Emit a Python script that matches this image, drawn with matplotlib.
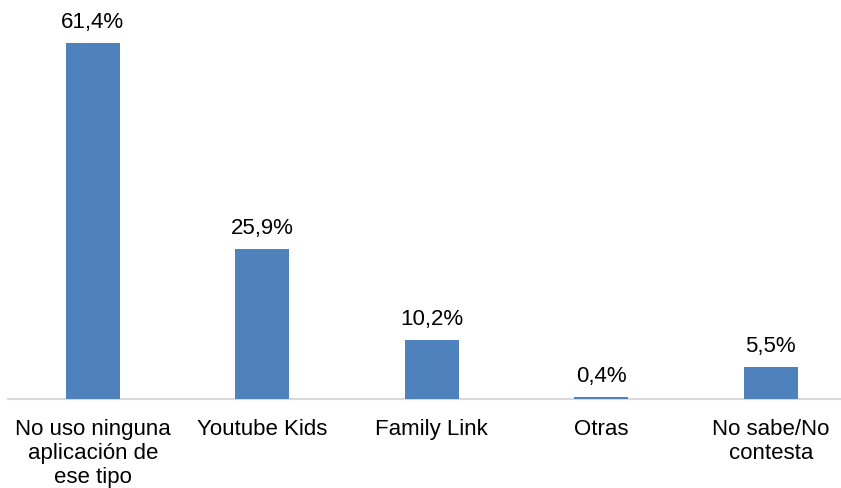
import matplotlib
matplotlib.use("Agg")
import matplotlib.pyplot as plt

plt.rcParams['font.family'] = ['Liberation Sans', 'DejaVu Sans']

categories = ["No uso ninguna\naplicación de\nese tipo", "Youtube Kids", "Family Link",
              "Otras", "No sabe/No\ncontesta"]
values = [61.4, 25.9, 10.2, 0.4, 5.5]
labels = ["61,4%", "25,9%", "10,2%", "0,4%", "5,5%"]

W, H = 841, 489
fig = plt.figure(figsize=(W / 100, H / 100), dpi=100)
# axes spans 5 slots of ~169.5 px, starting at x=8
ax = fig.add_axes([8 / W, 89 / H, 847.5 / W, 394 / H])

x = range(len(categories))
bars = ax.bar(x, values, width=0.32, color="#4F81BD", zorder=3)
ax.set_xlim(-0.5, 4.5)
ax.set_ylim(0, 68)

for b, lab in zip(bars, labels):
    ax.annotate(lab, (b.get_x() + b.get_width() / 2, b.get_height()),
                xytext=(0, 8), textcoords="offset points",
                ha="center", va="bottom", fontsize=16)

ax.set_xticks(list(x))
ax.set_xticklabels(categories, fontsize=16, linespacing=1.16)
ax.tick_params(axis="x", length=0, pad=14)
ax.set_yticks([])
for s in ["left", "right", "top"]:
    ax.spines[s].set_visible(False)
ax.spines["bottom"].set_color("#D9D9D9")
ax.spines["bottom"].set_linewidth(1.5)
ax.spines["bottom"].set_zorder(1)

fig.savefig("out.png", dpi=100)
